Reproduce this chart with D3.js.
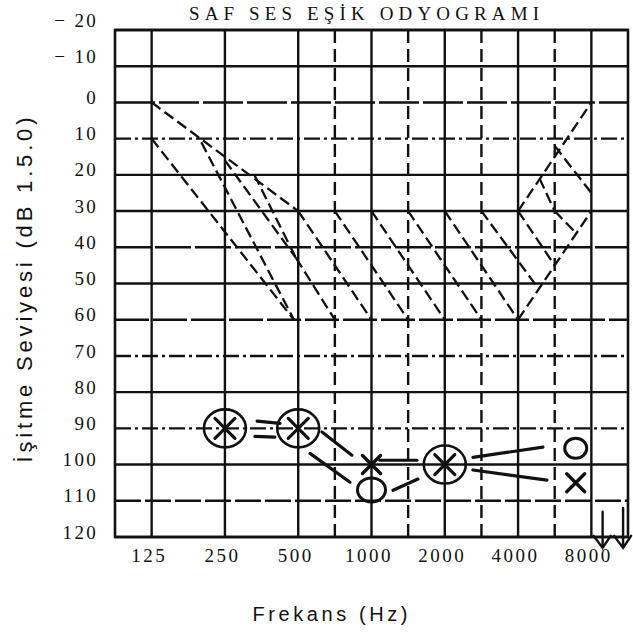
<!DOCTYPE html>
<html><head><meta charset="utf-8">
<script src="https://cdn.jsdelivr.net/npm/d3@7/dist/d3.min.js"></script>
<style>body{margin:0;background:#fff;}svg{display:block;}</style>
</head><body>
<svg id="chart" width="633" height="634"></svg>
<script>
// ---------- data ----------
const chartTitle = "SAF SES EŞİK ODYOGRAMI";
const yTitle = "İşitme Seviyesi (dB 1.5.0)";
const xTitle = "Frekans (Hz)";
const octaveFreqs = [125, 250, 500, 1000, 2000, 4000, 8000];
const xTickLabels = ["125", "250", "500", "1000", "2000", "4000", "8000"];
const halfOctaveFreqs = [750, 1500, 3000, 6000];
const dbTicks = [-20, -10, 0, 10, 20, 30, 40, 50, 60, 70, 80, 90, 100, 110, 120];
const dbTickLabels = ["− 20", "− 10", "0", "10", "20", "30", "40", "50", "60", "70", "80", "90", "100", "110", "120"];
// dashed reference region: [freq1, dB1, freq2, dB2]
const regionSegments = [
  [125, 0, 500, 30], [125, 10, 480, 60], [200, 11, 480, 60],
  [250, 16, 490, 43], [330, 20, 490, 43], [490, 43, 750, 60],
  [500, 30, 1000, 60], [750, 30, 1500, 60], [1000, 30, 2000, 60],
  [1500, 30, 3000, 60], [2000, 30, 4000, 60], [3000, 30, 4800, 51],
  [4000, 30, 8000, 0], [4000, 60, 8000, 30], [4000, 30, 6000, 45],
  [6000, 30, 6900, 36], [4900, 21, 6000, 30], [6000, 12, 8000, 25]
];
const bothEars = [[250, 90], [500, 90], [2000, 100]];
const rightEarO = [[1000, 107], [6900, 95.5]];
const leftEarX = [[1000, 100], [6900, 105]];
const connectors = [
  [339, 88.0, 421, 88.6], [332, 92.2, 401, 92.4],
  [626, 91.0, 831, 97.4], [559, 96.9, 816, 104.9],
  [1083, 98.8, 1537, 98.8], [1226, 107.1, 1552, 104.0],
  [2610, 98.0, 5060, 95.2], [2610, 101.5, 5256, 104.3]
];
const noResponse = [[8900, 113, 123], [10800, 112, 123]];

// ---------- layout ----------
const L = 115, R = 628, T = 30, B = 537;
const svg = d3.select("#chart");
const ink = "#111";

const xLog = d3.scaleLog().base(2)
  .domain([125 / Math.SQRT2, 8000 * Math.SQRT2]).range([L, R]);
// half-octave frequencies sit midway between their octaves on this form
const x = f => halfOctaveFreqs.includes(f) ? xLog(f / 1.5 * Math.SQRT2) : xLog(f);
const y = d3.scaleLinear().domain([-20, 120]).range([T, B]);

// horizontal grid styles (presentation only)
const hStyle = {0: "40,4", 10: "16,4,3,4", 40: "36,4", 60: "34,4", 70: "16,4,3,4", 90: "16,4,3,4", 110: "26,4"};

const grid = svg.append("g");
grid.selectAll("line.h").data(dbTicks).join("line")
  .attr("x1", L).attr("x2", R).attr("y1", d => y(d)).attr("y2", d => y(d))
  .attr("stroke", ink).attr("stroke-width", 2.4)
  .attr("stroke-dasharray", d => hStyle[d] || null);
grid.selectAll("line.v").data(octaveFreqs).join("line")
  .attr("x1", d => x(d)).attr("x2", d => x(d)).attr("y1", T).attr("y2", B)
  .attr("stroke", ink).attr("stroke-width", 2.4);
grid.selectAll("line.hv").data(halfOctaveFreqs).join("line")
  .attr("x1", d => x(d)).attr("x2", d => x(d)).attr("y1", T).attr("y2", B)
  .attr("stroke", ink).attr("stroke-width", 2.4).attr("stroke-dasharray", "13,6");
// frame
svg.append("rect").attr("x", L).attr("y", T).attr("width", R - L).attr("height", B - T)
  .attr("fill", "none").attr("stroke", ink).attr("stroke-width", 2.6);

// dashed region
svg.append("g").selectAll("line").data(regionSegments).join("line")
  .attr("x1", d => x(d[0])).attr("y1", d => y(d[1]))
  .attr("x2", d => x(d[2])).attr("y2", d => y(d[3]))
  .attr("stroke", ink).attr("stroke-width", 2.3).attr("stroke-dasharray", "11,5");

// connectors
svg.append("g").selectAll("line").data(connectors).join("line")
  .attr("x1", d => x(d[0])).attr("y1", d => y(d[1]))
  .attr("x2", d => x(d[2])).attr("y2", d => y(d[3]))
  .attr("stroke", ink).attr("stroke-width", 3.2).attr("stroke-linecap", "round");

// symbols
const sym = svg.append("g").attr("fill", "none").attr("stroke", ink).attr("stroke-linecap", "round");
const cross = (g, s) => g.append("path").attr("d", `M${-s},${-s}L${s},${s}M${s},${-s}L${-s},${s}`);
bothEars.forEach(d => {
  const g = sym.append("g").attr("transform", `translate(${x(d[0])},${y(d[1])})`);
  g.append("ellipse").attr("rx", 21).attr("ry", 19).attr("stroke-width", 2.6);
  cross(g, 10).attr("stroke-width", 3.2);
});
rightEarO.forEach((d, i) => {
  sym.append("ellipse").attr("cx", x(d[0])).attr("cy", y(d[1]))
    .attr("rx", i === 0 ? 14 : 11).attr("ry", i === 0 ? 12 : 10).attr("stroke-width", 3);
});
leftEarX.forEach(d => {
  const g = sym.append("g").attr("transform", `translate(${x(d[0])},${y(d[1])})`);
  cross(g, 9).attr("stroke-width", 3.4);
});
// no-response arrows
noResponse.forEach(d => {
  const xx = x(d[0]), y1 = y(d[1]), y2 = y(d[2]);
  sym.append("path").attr("stroke-width", 2.4)
    .attr("d", `M${xx},${y1}L${xx},${y2}M${xx - 9},${y2 - 12}L${xx},${y2}L${xx + 8},${y2 - 12}`);
});

// axes labels
const yAxis = svg.append("g").attr("transform", `translate(${L},0)`)
  .call(d3.axisLeft(y).tickValues(dbTicks).tickFormat((d, i) => dbTickLabels[i]).tickSize(0).tickPadding(17));
yAxis.select(".domain").remove();
yAxis.selectAll("text").attr("font-family", "Liberation Serif, serif").attr("font-size", 19)
  .attr("letter-spacing", 2.3).attr("fill", ink)
  .attr("y", d => d < 0 ? -10 : -5);

const xAxis = svg.append("g").attr("transform", `translate(0,${B})`)
  .call(d3.axisBottom(xLog).tickValues(octaveFreqs).tickFormat((d, i) => xTickLabels[i]).tickSize(0).tickPadding(12));
xAxis.select(".domain").remove();
xAxis.selectAll("text").attr("font-family", "Liberation Serif, serif").attr("font-size", 19)
  .attr("letter-spacing", 2.5).attr("fill", ink).attr("x", -3);

// titles
svg.append("text").attr("x", 364).attr("y", 20).attr("text-anchor", "middle")
  .attr("font-family", "Liberation Serif, serif").attr("font-size", 19)
  .attr("textLength", 350).attr("lengthAdjust", "spacing").attr("fill", ink).text(chartTitle);
svg.append("text").attr("transform", "translate(32,290) rotate(-90)").attr("text-anchor", "middle")
  .attr("font-family", "Liberation Sans, sans-serif").attr("font-size", 22)
  .attr("textLength", 345).attr("lengthAdjust", "spacing").attr("fill", ink).text(yTitle);
svg.append("text").attr("x", 330).attr("y", 621).attr("text-anchor", "middle")
  .attr("font-family", "Liberation Sans, sans-serif").attr("font-size", 20)
  .attr("textLength", 155).attr("lengthAdjust", "spacing").attr("fill", ink).text(xTitle);
</script>
</body></html>
